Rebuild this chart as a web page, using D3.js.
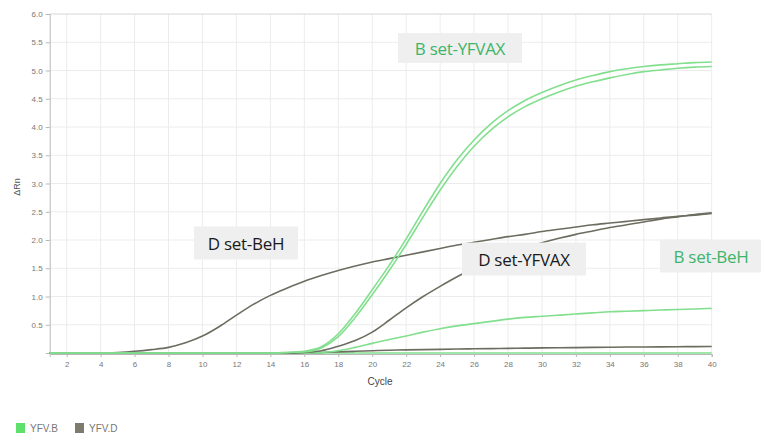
<!DOCTYPE html>
<html>
<head>
<meta charset="utf-8">
<script src="https://cdn.jsdelivr.net/npm/d3@7"></script>
<style>
  html, body { margin: 0; padding: 0; background: #ffffff; }
  svg { display: block; }
</style>
</head>
<body>
<svg id="chart" width="761" height="443"></svg>
<script>
// Amplification plot: delta Rn per PCR cycle for the B and D sets
const cycles = d3.range(1, 41);

const bYfvaxA = [0, 0, 0, 0, 0, 0, 0, 0, 0, 0, 0, 0, 0, 0, 0.01, 0.03, 0.11, 0.34, 0.7, 1.12,
  1.55, 2.02, 2.52, 3.0, 3.42, 3.77, 4.06, 4.29, 4.47, 4.61, 4.73, 4.83, 4.91, 4.98, 5.03, 5.07, 5.1, 5.12, 5.14, 5.15];
const bYfvaxB = [0, 0, 0, 0, 0, 0, 0, 0, 0, 0, 0, 0, 0, 0, 0.01, 0.02, 0.09, 0.29, 0.63, 1.03,
  1.46, 1.92, 2.41, 2.88, 3.3, 3.66, 3.95, 4.18, 4.36, 4.5, 4.62, 4.72, 4.8, 4.87, 4.93, 4.98, 5.01, 5.04, 5.06, 5.07];
const bBeh = [0, 0, 0, 0, 0, 0, 0, 0, 0, 0, 0, 0, 0, 0, 0, 0, 0.01, 0.04, 0.1, 0.17,
  0.24, 0.3, 0.37, 0.43, 0.48, 0.52, 0.56, 0.6, 0.63, 0.65, 0.67, 0.69, 0.71, 0.73, 0.74, 0.75, 0.76, 0.77, 0.78, 0.79];
const bFlat = [0, 0, 0, 0, 0, 0, 0, 0, 0, 0, 0, 0, 0, 0, 0, 0, 0, 0, 0, 0,
  0, 0, 0, 0, 0, 0, 0, 0, 0, 0, 0, 0, 0, 0, 0, 0, 0, 0, 0, 0];
const dBeh = [0, 0, 0, 0, 0.01, 0.03, 0.06, 0.1, 0.18, 0.3, 0.47, 0.67, 0.86, 1.02, 1.15, 1.27, 1.37, 1.46, 1.54, 1.61,
  1.67, 1.73, 1.79, 1.85, 1.91, 1.96, 2.01, 2.06, 2.1, 2.15, 2.19, 2.23, 2.27, 2.3, 2.33, 2.36, 2.39, 2.42, 2.44, 2.47];
const dYfvax = [0, 0, 0, 0, 0, 0, 0, 0, 0, 0, 0, 0, 0, 0, 0, 0.01, 0.04, 0.12, 0.22, 0.37,
  0.58, 0.8, 1.0, 1.18, 1.35, 1.5, 1.63, 1.75, 1.86, 1.95, 2.03, 2.1, 2.16, 2.22, 2.27, 2.32, 2.37, 2.41, 2.45, 2.48];
const dLow = [0, 0, 0, 0, 0, 0, 0, 0, 0, 0, 0, 0, 0, 0, 0, 0.005, 0.01, 0.02, 0.03, 0.04,
  0.05, 0.055, 0.06, 0.065, 0.07, 0.074, 0.078, 0.082, 0.086, 0.09, 0.093, 0.096, 0.099, 0.102, 0.105, 0.107, 0.109, 0.111, 0.113, 0.115];

const xTicks = d3.range(2, 41, 2);
const yTicks = [0.5, 1.0, 1.5, 2.0, 2.5, 3.0, 3.5, 4.0, 4.5, 5.0, 5.5, 6.0];

const legendNames = ["YFV.B", "YFV.D"];
const annotations = [
  { text: "B set-YFVAX", set: "B", cx: 460, cy: 48, w: 124, h: 30 },
  { text: "D set-BeH", set: "D", cx: 246, cy: 243, w: 104, h: 33 },
  { text: "D set-YFVAX", set: "D", cx: 524, cy: 259, w: 124, h: 33 },
  { text: "B set-BeH", set: "B", cx: 711, cy: 256, w: 102, h: 33 }
];

const colorB = "#82df8e";
const colorD = "#6d6c60";

const svg = d3.select("#chart");
const x = d3.scaleLinear().domain([1, 40]).range([49.7, 711.7]);
const y = d3.scaleLinear().domain([0, 6]).range([353, 14]);

// grid
const grid = svg.append("g");
grid.selectAll("line.v").data(xTicks).join("line")
  .attr("x1", d => x(d)).attr("x2", d => x(d))
  .attr("y1", y(6)).attr("y2", y(0))
  .attr("stroke", "#ececec").attr("stroke-width", 1);
grid.selectAll("line.h").data(yTicks).join("line")
  .attr("x1", x(1)).attr("x2", x(40))
  .attr("y1", d => y(d)).attr("y2", d => y(d))
  .attr("stroke", d => d === 6 ? "#d6d6d6" : "#ececec").attr("stroke-width", 1);

// axes
const yAxis = d3.axisLeft(y).tickValues(yTicks).tickFormat(d3.format(".1f")).tickSize(4).tickPadding(3);
const gy = svg.append("g").attr("transform", `translate(${x(1)},0)`).call(yAxis);
const xAxis = d3.axisBottom(x).tickValues(xTicks).tickFormat(d3.format("d")).tickSize(3).tickPadding(4);
const gx = svg.append("g").attr("transform", `translate(0,${y(0) + 1})`).call(xAxis);
[gy, gx].forEach(g => {
  g.select(".domain").attr("stroke", "#b8b8b8");
  g.selectAll(".tick line").attr("stroke", "#b8b8b8");
  g.selectAll(".tick text").attr("fill", "#777").attr("font-family", "Arial, 'Liberation Sans', sans-serif").attr("font-size", 8);
});

// curves
const line = d3.line().x((d, i) => x(cycles[i])).y(d => y(d)).curve(d3.curveMonotoneX);
const series = [
  { v: bFlat, c: colorB }, { v: dLow, c: colorD },
  { v: bBeh, c: colorB }, { v: dBeh, c: colorD }, { v: dYfvax, c: colorD },
  { v: bYfvaxB, c: colorB }, { v: bYfvaxA, c: colorB }
];
svg.append("g").selectAll("path").data(series).join("path")
  .attr("d", d => line(d.v))
  .attr("fill", "none").attr("stroke", d => d.c).attr("stroke-width", 1.6);

// annotation labels
const ann = svg.append("g").selectAll("g").data(annotations).join("g");
ann.append("rect")
  .attr("x", d => d.cx - d.w / 2).attr("y", d => d.cy - d.h / 2)
  .attr("width", d => d.w).attr("height", d => d.h)
  .attr("fill", "#efefef");
ann.append("text")
  .attr("x", d => d.cx).attr("y", d => d.cy)
  .attr("text-anchor", "middle").attr("dominant-baseline", "central")
  .attr("font-family", "'Open Sans', sans-serif").attr("font-size", 17)
  .attr("letter-spacing", -0.3)
  .attr("fill", d => d.set === "B" ? "#3db56a" : "#1a1a1a")
  .text(d => d.text);

// axis titles
svg.append("text").attr("x", 380).attr("y", 385).attr("text-anchor", "middle")
  .attr("font-family", "Arial, 'Liberation Sans', sans-serif").attr("font-size", 10).attr("fill", "#444")
  .text("Cycle");
svg.append("text").attr("transform", "translate(20,187) rotate(-90)").attr("text-anchor", "middle")
  .attr("font-family", "Arial, 'Liberation Sans', sans-serif").attr("font-size", 9).attr("fill", "#555")
  .text("ΔRn");

// legend
const lg = svg.append("g").attr("transform", "translate(16,423)");
const items = lg.selectAll("g").data(legendNames).join("g")
  .attr("transform", (d, i) => `translate(${i * 59},0)`);
items.append("rect").attr("width", 9).attr("height", 10)
  .attr("fill", (d, i) => i === 0 ? "#5fe06a" : "#7c7b6c");
items.append("text").attr("x", 14).attr("y", 9)
  .attr("font-family", "Arial, 'Liberation Sans', sans-serif").attr("font-size", 10).attr("fill", "#777")
  .text(d => d);
</script>
</body>
</html>
